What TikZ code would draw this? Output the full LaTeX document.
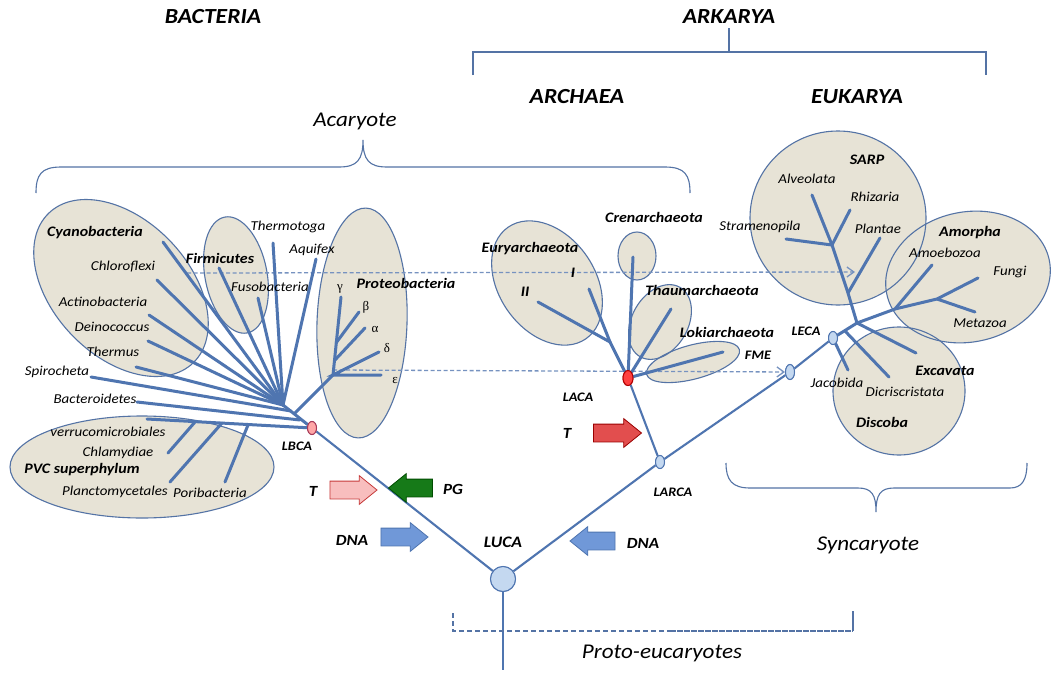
\documentclass[tikz,border=0pt]{standalone}
\usepackage{fontspec}
\setmainfont{Carlito}[FakeStretch=1.1]
\newfontfamily\greekfont{Liberation Serif}
\usepackage{tikz}
\usetikzlibrary{positioning}
\usetikzlibrary{arrows.meta}
\usetikzlibrary{shapes}

\definecolor{treeblue}{RGB}{79,117,176}
\definecolor{groupfill}{RGB}{231,227,214}
\definecolor{groupline}{RGB}{84,115,165}
\definecolor{linkblue}{RGB}{118,146,192}
\definecolor{ancfill}{RGB}{196,216,240}
\definecolor{pinkarrow}{RGB}{248,190,190}
\definecolor{redarrow}{RGB}{226,78,78}
\definecolor{greenarrow}{RGB}{22,122,24}
\definecolor{bluearrow}{RGB}{112,152,216}

\tikzset{
  branch/.style={draw=treeblue,line width=3pt,line cap=round},
  trunkline/.style={draw=treeblue,line width=2.1pt},
  bracket/.style={draw=groupline,line width=1.1pt},
  translink/.style={draw=linkblue,line width=1.3pt,dash pattern=on 4pt off 2.5pt,-{Straight Barb[length=7pt,width=10pt]}},
  taxon/.style={font=\itshape\fontsize{13.6}{15}\selectfont,inner sep=0pt},
  clade/.style={font=\bfseries\itshape\fontsize{14.5}{16}\selectfont,inner sep=0pt},
  anclabel/.style={font=\bfseries\itshape\fontsize{13}{15}\selectfont,inner sep=0pt},
  fluxlabel/.style={font=\bfseries\itshape\fontsize{15.5}{17}\selectfont,inner sep=0pt},
  domtext/.style={font=\bfseries\itshape\fontsize{21.5}{24}\selectfont,inner sep=0pt},
  gradetext/.style={font=\itshape\fontsize{21}{25}\selectfont,inner sep=0pt},
  greek/.style={font=\greekfont\fontsize{13}{14}\selectfont,inner sep=0pt},
  ancnode/.style={ellipse,draw=treeblue,line width=1pt,fill=ancfill,minimum width=9pt,minimum height=13pt,inner sep=0pt},
  flux/.style={single arrow,single arrow tip angle=78,single arrow head extend=5.5pt,
    text width=0pt,text height=0pt,text depth=0pt,inner xsep=0pt,inner ysep=8.5pt,line width=0.8pt},
}

\begin{document}
\begin{tikzpicture}[x=1pt,y=-1pt]
\useasboundingbox[fill=white] (0,0) rectangle (1058,680);

% headers
\node[domtext] (bacteria) at (213,17) {BACTERIA};
\node[domtext] (arkarya) at (729,17) {ARKARYA};
\node[domtext] (archaea) at (577,97) {ARCHAEA};
\node[domtext] (eukarya) at (857,97) {EUKARYA};
\node[gradetext] (acaryote) at (355,121) {Acaryote};
\node[gradetext] (syncaryote) at (868,545) {Syncaryote};
\node[gradetext] (proto) at (662,653) {Proto-eucaryotes};

\draw[bracket] (473,75) -- (473,52) -- (986,52) -- (986,75);
\draw[bracket] (729,52) -- (729,28);
\draw[bracket] (36,193) .. controls (36,175) and (41,167) .. (61,167) -- (339,167)
  .. controls (357,167) and (363,160) .. (363,140) .. controls (363,160) and (369,167) .. (387,167)
  -- (665,167) .. controls (685,167) and (690,175) .. (690,193);
\draw[bracket] (726,463) .. controls (726,480) and (732,488) .. (750,488) -- (858,488)
  .. controls (872,488) and (876,495) .. (876,512) .. controls (876,495) and (880,488) .. (894,488)
  -- (1010,488) .. controls (1022,488) and (1027,480) .. (1027,463);

% groups
\foreach \cx/\cy/\a/\b/\r in {121/288/104/68/-46, 236/275/31/59/11, 362/323/45/115/-2,
    142/467/132/51/0, 547/283/68/48/-55, 637/256/19/24/0, 660/322/40/28/60,
    693/362/48/17/15, 838/218/88/87/0, 968/277/83/65/12, 899/391/66/64/0}
  \fill[groupfill,rotate around={\r:(\cx,\cy)}] (\cx,\cy) ellipse [x radius=\a,y radius=\b];
\foreach \cx/\cy/\a/\b/\r in {121/288/104/68/-46, 236/275/31/59/11, 362/323/45/115/-2,
    142/467/132/51/0, 547/283/68/48/-55, 637/256/19/24/0, 660/322/40/28/60,
    693/362/48/17/15, 838/218/88/87/0, 968/277/83/65/12, 899/391/66/64/0}
  \draw[bracket,rotate around={\r:(\cx,\cy)}] (\cx,\cy) ellipse [x radius=\a,y radius=\b];

% ancestors
\coordinate (root) at (503,670);
\node[ancnode,minimum width=25pt,minimum height=25pt] (luca) at (503,579) {};
\node[ancnode,fill=red!35!white,draw=red!50!treeblue] (lbca) at (312,428) {};
\node[ancnode,fill=red!75!white,draw=red!70!black,minimum width=10pt,minimum height=15pt] (laca) at (628,378) {};
\node[ancnode] (larca) at (660,462) {};
\node[ancnode,minimum height=15pt] (fme) at (790,372) {};
\node[ancnode] (leca) at (833,338) {};

% bacteria
\coordinate (hubB) at (283,405);
\coordinate (cyaT) at (163,242);
\coordinate (chlT) at (157,280);
\coordinate (actT) at (149,315);
\coordinate (deiT) at (148,341);
\coordinate (theT) at (136,367);
\coordinate (firT) at (219,268);
\coordinate (fusT) at (258,298);
\coordinate (thgT) at (273,243);
\coordinate (aqfT) at (316,259);
\coordinate (spiT) at (91,377);
\coordinate (spiB) at (291,411);
\coordinate (bctT) at (137,402);
\coordinate (bctB) at (300,420);
\coordinate (verT) at (147,419);
\coordinate (chyJ) at (195,422);
\coordinate (chyT) at (168,453);
\coordinate (plaJ) at (222,423);
\coordinate (plaT) at (170,482);
\coordinate (porJ) at (248,425);
\coordinate (porT) at (225,482);
\coordinate (proB) at (295,413);
\coordinate (proJ) at (333,375);
\coordinate (gamT) at (341,297);
\coordinate (betJ) at (336,343);
\coordinate (betT) at (359,312);
\coordinate (alpJ) at (335,360);
\coordinate (alpT) at (365,328);
\coordinate (delT) at (379,352);
\coordinate (epsT) at (381,375);

% archaea
\coordinate (euJ) at (610,342);
\coordinate (euII) at (538,302);
\coordinate (euI) at (589,289);
\coordinate (creT) at (633,257);
\coordinate (thaT) at (671,309);
\coordinate (lokT) at (723,352);

% eukarya
\coordinate (eJa) at (857,323);
\coordinate (eJb) at (895,309);
\coordinate (fmJ) at (937,299);
\coordinate (funT) at (978,278);
\coordinate (metT) at (975,312);
\coordinate (amoT) at (932,265);
\coordinate (sJ) at (832,245);
\coordinate (plJ) at (848,293);
\coordinate (plnT) at (880,238);
\coordinate (strT) at (786,239);
\coordinate (alvT) at (812,195);
\coordinate (rhiT) at (850,210);
\coordinate (excT) at (916,353);
\coordinate (dicJ) at (845,331);
\coordinate (dicT) at (889,377);
\coordinate (jacT) at (848,370);

% lateral transfers
\draw[translink] (187,273) -- (855,272);
\draw[translink] (333,370) -- (fme);

% branches
\foreach \t in {cyaT,chlT,actT,deiT,theT,firT,fusT,thgT,aqfT}
  \draw[branch] (\t) -- (hubB);
\draw[branch] (hubB) -- (lbca);
\draw[branch] (spiT) -- (spiB);
\draw[branch] (bctT) -- (bctB);
\draw[branch] (verT) -- (lbca);
\draw[branch] (chyT) -- (chyJ);
\draw[branch] (plaT) -- (plaJ);
\draw[branch] (porT) -- (porJ);
\draw[branch] (proB) -- (proJ) -- (gamT);
\draw[branch] (betT) -- (betJ);
\draw[branch] (alpT) -- (alpJ);
\draw[branch] (delT) -- (proJ) -- (epsT);

\draw[branch] (euII) -- (euJ) -- (laca);
\draw[branch] (euI) -- (euJ);
\foreach \t in {creT,thaT,lokT}
  \draw[branch] (\t) -- (laca);

\draw[branch] (leca) -- (eJa) -- (eJb) -- (fmJ) -- (funT);
\draw[branch] (fmJ) -- (metT);
\draw[branch] (amoT) -- (eJb);
\draw[branch] (eJa) -- (plJ) -- (sJ) -- (alvT);
\draw[branch] (plnT) -- (plJ);
\draw[branch] (strT) -- (sJ);
\draw[branch] (rhiT) -- (sJ);
\draw[branch] (eJa) -- (excT);
\draw[branch] (dicJ) -- (dicT);
\draw[branch] (leca) -- (jacT);

\draw[trunkline] (lbca) -- (luca);
\draw[trunkline] (luca) -- (larca) -- (fme) -- (leca);
\draw[trunkline] (laca) -- (larca);
\draw[trunkline] (luca) -- (root);

% redraw ancestors on top
\node[ancnode,minimum width=25pt,minimum height=25pt] at (luca) {};
\node[ancnode,fill=red!35!white,draw=red!50!treeblue] at (lbca) {};
\node[ancnode,fill=red!75!white,draw=red!70!black,minimum width=10pt,minimum height=15pt] at (laca) {};
\node[ancnode] at (larca) {};
\node[ancnode,minimum height=15pt] at (fme) {};
\node[ancnode] at (leca) {};

% proto-eucaryotes bracket
\draw[bracket,dash pattern=on 5pt off 3pt] (453,613) -- (453,631) -- (670,631);
\draw[bracket,line width=1.5pt,dash pattern=on 6pt off 1pt] (670,631) -- (853,631);
\draw[bracket] (853,631) -- (853,611);

% transfer arrows
\node[flux,fill=pinkarrow,draw=red!55!gray,minimum height=47pt] (tbac) at (348,490) {};
\node[flux,fill=greenarrow,draw=green!30!black,shape border rotate=180,minimum height=44pt] (pg) at (416,488) {};
\node[flux,fill=bluearrow,draw=treeblue,minimum height=47pt] (dnabac) at (399,537) {};
\node[flux,fill=bluearrow,draw=treeblue,shape border rotate=180,minimum height=45pt] (dnaarc) at (598,541) {};
\node[flux,fill=redarrow,draw=red!60!black,minimum height=48pt] (tarc) at (612,433) {};
\node[fluxlabel] (tbacL) at (313,491) {T};
\node[fluxlabel] (pgL) at (453,489) {PG};
\node[fluxlabel] (dnabacL) at (352,540) {DNA};
\node[fluxlabel] (dnaarcL) at (643,543) {DNA};
\node[fluxlabel] (tarcL) at (567,433) {T};

% ancestor labels
\node[anclabel,font=\bfseries\itshape\fontsize{16}{18}\selectfont] (lucaL) at (503,542) {LUCA};
\node[anclabel] (lbcaL) at (297,446) {LBCA};
\node[anclabel] (lacaL) at (578,397) {LACA};
\node[anclabel] (larcaL) at (673,492) {LARCA};
\node[anclabel] (lecaL) at (806,331) {LECA};
\node[anclabel] (fmeL) at (758,355) {FME};

% bacteria labels
\node[clade] (cyaL) at (95,233) {Cyanobacteria};
\node[taxon] (chlL) at (123,267) {Chloroflexi};
\node[taxon] (actL) at (103,302) {Actinobacteria};
\node[taxon] (deiL) at (112,327) {Deinococcus};
\node[taxon] (theL) at (113,352) {Thermus};
\node[taxon] (spiL) at (57,372) {Spirocheta};
\node[taxon] (bctL) at (95,399) {Bacteroidetes};
\node[clade] (firL) at (220,258) {Firmicutes};
\node[taxon] (fusL) at (270,287) {Fusobacteria};
\node[taxon] (thgL) at (288,227) {Thermotoga};
\node[taxon] (aqfL) at (312,250) {Aquifex};
\node[clade] (proL) at (406,283) {Proteobacteria};
\node[greek] (gamL) at (340,289) {γ};
\node[greek] (betL) at (366,307) {β};
\node[greek] (alpL) at (375,329) {α};
\node[greek] (delL) at (387,348) {δ};
\node[greek] (epsL) at (395,380) {ε};
\node[taxon] (verL) at (108,432) {verrucomicrobiales};
\node[taxon] (chyL) at (118,453) {Chlamydiae};
\node[clade] (pvcL) at (82,470) {PVC superphylum};
\node[taxon] (plaL) at (115,492) {Planctomycetales};
\node[taxon] (porL) at (210,493) {Poribacteria};

% archaea labels
\node[clade] (euL) at (530,249) {Euryarchaeota};
\node[clade] (euIL) at (573,273) {I};
\node[clade] (euIIL) at (525,292) {II};
\node[clade] (creL) at (654,217) {Crenarchaeota};
\node[clade] (thaL) at (702,290) {Thaumarchaeota};
\node[clade] (lokL) at (727,332) {Lokiarchaeota};

% eukarya labels
\node[clade] (sarpL) at (867,160) {SARP};
\node[taxon] (alvL) at (807,179) {Alveolata};
\node[taxon] (rhiL) at (875,197) {Rhizaria};
\node[taxon] (strL) at (760,227) {Stramenopila};
\node[taxon] (plnL) at (878,229) {Plantae};
\node[clade] (amoL) at (970,233) {Amorpha};
\node[taxon] (amzL) at (945,253) {Amoebozoa};
\node[taxon] (funL) at (1010,272) {Fungi};
\node[taxon] (metL) at (980,323) {Metazoa};
\node[clade] (excL) at (945,371) {Excavata};
\node[taxon] (jacL) at (837,383) {Jacobida};
\node[taxon] (dicL) at (905,392) {Dicriscristata};
\node[clade] (disL) at (882,422) {Discoba};
\end{tikzpicture}
\end{document}
